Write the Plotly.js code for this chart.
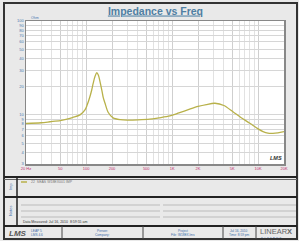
<!DOCTYPE html>
<html><head><meta charset="utf-8">
<script src="https://cdn.plot.ly/plotly-3.0.1.min.js"></script>
<style>html,body{margin:0;padding:0;background:#e9e9e9;}#chart{width:299px;height:241px;}</style>
</head><body><div id="chart"></div>
<script>
// Data
const freq = [20, 30, 38, 50, 60, 70, 85, 97, 103, 110, 116, 121, 127, 133, 139, 145, 152, 158, 166, 181, 206, 250, 300, 400, 550, 700, 944, 1200, 1600, 2000, 2500, 3150, 4000, 5100, 6300, 8000, 10000, 11400, 13000, 14900, 17000, 20000];
const imp  = [8.1, 8.25, 8.45, 8.7, 9.0, 9.4, 10.0, 11.3, 12.8, 15.3, 18.3, 21.8, 25.8, 28.1, 26.5, 22.6, 18.5, 15.4, 13.3, 10.6, 9.3, 8.9, 8.8, 8.85, 9.0, 9.3, 9.75, 10.5, 11.5, 12.3, 12.9, 13.3, 12.6, 10.8, 9.4, 8.15, 7.1, 6.65, 6.4, 6.37, 6.45, 6.63];
const xTickVals = [20, 50, 100, 200, 500, 1000, 2000, 5000, 10000, 20000];
const xTickText = ['20 Hz', '50', '100', '200', '500', '1K', '2K', '5K', '10K', '20K'];
const xMinorVals = [30,40,60,70,80,90,300,400,600,700,800,900,3000,4000,6000,7000,8000,9000];
const yTickVals = [3,4,5,6,7,8,9,10,20,30,40,50,60,70,80,90,100];
const yTickText = ['3','4','5','6','7','8','9','10','20','30','40','50','60','70','80','90','100'];
const seriesName = '22  SEAS W18EX001 IMP';

// pixel -> paper helpers (plot area 26..284 x 21..164)
const L=26, R=284, T=21, B=164;
const px = x => (x-L)/(R-L);
const py = y => (B-y)/(B-T);
function line(x0,y0,x1,y1,color,w){return {type:'line',xref:'paper',yref:'paper',x0:px(x0),y0:py(y0),x1:px(x1),y1:py(y1),line:{color:color,width:w}};}
function txt(x,y,t,size,color,opts){return Object.assign({xref:'paper',yref:'paper',x:px(x),y:py(y),text:t,showarrow:false,font:{family:'Liberation Sans, Arial',size:size,color:color},xanchor:'left',yanchor:'middle'},opts||{});}

const shapes = [
  {type:'rect',xref:'paper',yref:'paper',x0:px(4),y0:py(3),x1:px(297),y1:py(239),line:{color:'#333',width:2},fillcolor:'rgba(0,0,0,0)'},
  line(4,177,297,177,'#222',2),
  line(4,179.5,297,179.5,'#666',1),
  line(4,197,297,197,'#222',2),
  line(4,226,297,226,'#222',2),
  line(17,177,17,226,'#222',1.5),
  line(21,205,160,205,'#bbb',1), line(163,205,296,205,'#bbb',1),
  line(21,211,160,211,'#bbb',1), line(163,211,296,211,'#bbb',1),
  line(21,217,160,217,'#bbb',1), line(163,217,296,217,'#bbb',1),
  line(62,226,62,239,'#444',1),
  line(143,226,143,239,'#444',1),
  line(223,226,223,239,'#444',1),
  line(256,226,256,239,'#444',1),
  line(21,182,27,182,'#b8b14a',1.5)
];

const annotations = [
  txt(29,18.5,'Ohm',3.5,'#4a78b0'),
  txt(268,157.5,'<i><b>LMS</b></i>',5.5,'#333'),
  txt(10,187,'Imp',4,'#3a6aa8',{textangle:-90,xanchor:'center'}),
  txt(10,211,'Notes',4,'#3a6aa8',{textangle:-90,xanchor:'center'}),
  txt(29,182,seriesName,3.5,'#777'),
  txt(21,222,'Data Measured: Jul 16, 2010  8:59:55 am',3.5,'#333'),
  txt(7,233,'<i><b>LMS</b></i>',8,'#555'),
  txt(29,231,'LEAP 5',3.2,'#3a6aa8'),
  txt(29,235,'LMS 4.6',3.2,'#3a6aa8'),
  txt(102,231,'Person:',3.2,'#3a6aa8',{xanchor:'center'}),
  txt(102,235,'Company:',3.2,'#3a6aa8',{xanchor:'center'}),
  txt(183,231,'Project',3.2,'#3a6aa8',{xanchor:'center'}),
  txt(183,235,'File: W18EX.lms',3.2,'#3a6aa8',{xanchor:'center'}),
  txt(239,231,'Jul 16, 2010',3.2,'#3a6aa8',{xanchor:'center'}),
  txt(239,235,'Time: 8:59 pm',3.2,'#3a6aa8',{xanchor:'center'}),
  txt(258,232,'LINEAR<b>X</b>',7.5,'#666'),
  txt(259,237,'S  Y  S  T  E  M  S',2.5,'#3a6aa8')
];

const trace = {
  x: freq, y: imp, type:'scatter', mode:'lines',
  line:{color:'#b8b14a', width:1.3, shape:'spline', smoothing:0.8},
  name: seriesName, hoverinfo:'skip'
};

const layout = {
  width:299, height:241,
  margin:{l:L, r:299-R, t:T, b:241-B, pad:0},
  paper_bgcolor:'#e9e9e9', plot_bgcolor:'#ffffff',
  showlegend:false,
  title:{text:'<b>Impedance vs Freq</b>', x:0.52, xanchor:'center', y:0.955, yanchor:'middle',
         font:{family:'Liberation Sans, Arial', size:10.5, color:'#4f7fa3', lineposition:'under'}},
  xaxis:{type:'log', range:[Math.log10(20), Math.log10(20000)],
         tickmode:'array', tickvals:xTickVals, ticktext:xTickText,
         tickfont:{family:'Liberation Sans, Arial', size:4, color:'#c0306a'},
         ticks:'', ticklen:0, showgrid:true, gridcolor:'#cfcfcf', gridwidth:1,
         minor:{tickmode:'array', tickvals:xMinorVals, showgrid:true, gridcolor:'#e2e2e2', gridwidth:1, ticks:''},
         showline:true, linecolor:'#888', linewidth:1.5, mirror:true, zeroline:false, fixedrange:true},
  yaxis:{type:'log', range:[Math.log10(3), 2],
         tickmode:'array', tickvals:yTickVals, ticktext:yTickText,
         tickfont:{family:'Liberation Sans, Arial', size:4, color:'#4a78b0'},
         ticks:'', showgrid:true, gridcolor:'#d6d6d6', gridwidth:1,
         showline:true, linecolor:'#888', linewidth:1.5, mirror:true, zeroline:false, fixedrange:true},
  shapes: shapes,
  annotations: annotations
};

Plotly.newPlot('chart', [trace], layout, {staticPlot:true, displayModeBar:false});
</script></body></html>
